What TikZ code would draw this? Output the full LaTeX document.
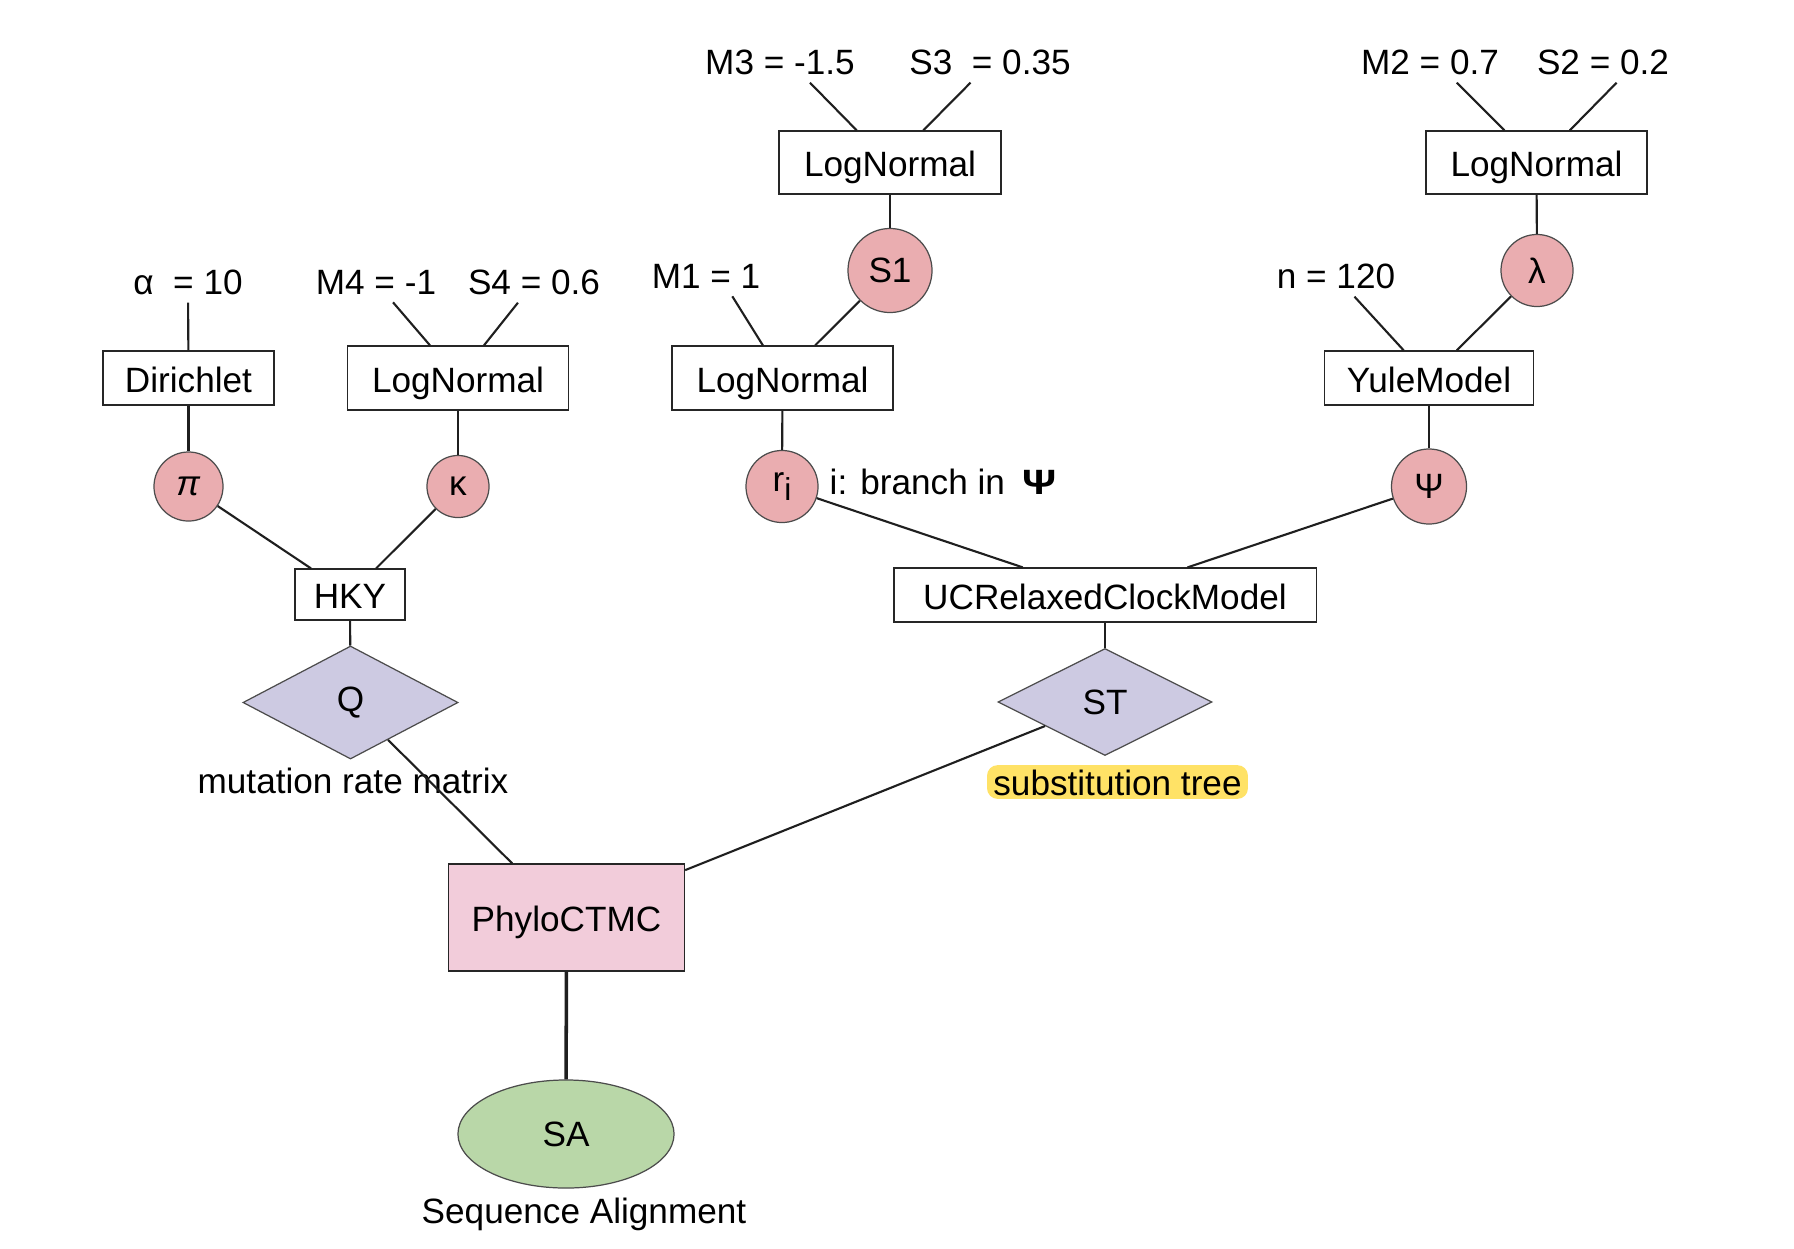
\documentclass[tikz,border=0pt]{standalone}
\usepackage{fontspec}
\setmainfont{Liberation Sans}
\usetikzlibrary{shapes}
\usetikzlibrary{shapes.geometric}

\definecolor{varpink}{RGB}{234,173,176}
\definecolor{funlilac}{RGB}{205,202,226}
\definecolor{likepink}{RGB}{242,204,218}
\definecolor{datagreen}{RGB}{185,215,168}
\definecolor{markyellow}{RGB}{255,226,102}

\begin{document}
\begin{tikzpicture}[x=0.01cm, y=-0.01cm,
    edge/.style={draw=black!88, line width=0.6pt},
    param/.style={inner sep=2pt},
    dist/.style={draw=black!85, line width=0.35pt, rectangle, inner ysep=0pt,
                 text height=11pt, text depth=3pt},
    var/.style={circle, draw=black!70, line width=0.35pt, fill=varpink, inner sep=0pt},
    fun/.style={diamond, draw=black!70, line width=0.35pt, fill=funlilac, inner sep=0pt},
  ]
  \useasboundingbox (0,0) rectangle (1794,1248);

  % substitution rate model
  \node[param] (alpha) at (188,282.5) {α\ \ = 10};
  \node[param] (m4) at (376,282.5) {M4 = -1};
  \node[param] (s4) at (534,282.5) {S4 = 0.6};
  \node[dist, minimum width=1.71cm, minimum height=0.54cm] (dir) at (188.5,378) {Dirichlet};
  \node[dist, minimum width=2.21cm, minimum height=0.64cm] (lnk) at (458,378) {LogNormal};
  \node[var, minimum size=0.69cm] (pi) at (188.5,486.5) {\textit{π}};
  \node[var, minimum size=0.62cm] (kappa) at (458,486.5) {κ};
  \node[dist, minimum width=1.10cm, minimum height=0.51cm] (hky) at (350,594.5) {HKY};
  \node[fun, minimum width=2.15cm, minimum height=1.13cm] (q) at (350.5,702.5) {Q};
  \node (qlabel) at (353,781) {mutation rate matrix};

  % clock model
  \node[param] (m3) at (780,62.5) {M3 = -1.5};
  \node[param] (s3) at (990,62.5) {S3\ \ = 0.35};
  \node[dist, minimum width=2.22cm, minimum height=0.63cm] (lns) at (890,162.5) {LogNormal};
  \node[var, minimum size=0.84cm] (s1) at (890,270.5) {S1};
  \node[param] (m1) at (706,276.5) {M1 = 1};
  \node[dist, minimum width=2.21cm, minimum height=0.64cm] (lnr) at (782.5,378) {LogNormal};
  \node[var, minimum size=0.72cm] (ri) at (782,486.5) {r\raisebox{-0.45ex}{\small i}};
  \node[anchor=west, inner sep=0pt] (branch) at (829,482)
    {i: branch in\enspace\scalebox{1.2}[1]{\textbf{Ψ}}};

  % tree model
  \node[param] (m2) at (1430,62.5) {M2 = 0.7};
  \node[param] (s2) at (1603,62.5) {S2 = 0.2};
  \node[dist, minimum width=2.21cm, minimum height=0.63cm] (lnl) at (1536.5,162.5) {LogNormal};
  \node[var, minimum size=0.72cm] (lambda) at (1537,270.5) {λ};
  \node[param] (n) at (1336,276.5) {n = 120};
  \node[dist, minimum width=2.09cm, minimum height=0.54cm] (yule) at (1429,378) {YuleModel};
  \node[var, minimum size=0.75cm] (psi) at (1429,486.5) {Ψ};

  \node[dist, minimum width=4.22cm, minimum height=0.54cm] (uc) at (1105,595) {UCRelaxedClockModel};
  \node[fun, minimum width=2.14cm, minimum height=1.07cm] (st) at (1105,702) {ST};
  \node[fill=markyellow, rounded corners=3pt, inner xsep=1.8pt, inner ysep=1.1pt,
        text height=7.4pt, text depth=0pt] (stlabel) at (1117.5,782) {substitution tree};

  % likelihood
  \node[dist, fill=likepink, minimum width=2.36cm, minimum height=1.07cm] (phylo) at (566.5,917.5) {PhyloCTMC};
  \node[ellipse, draw=black!70, line width=0.35pt, fill=datagreen, inner sep=0pt,
        minimum width=2.16cm, minimum height=1.08cm] (sa) at (566,1134) {SA};
  \node (salabel) at (584,1214) {Sequence Alignment};

  \draw[edge] (alpha) -- (dir);
  \draw[edge] (m4) -- (lnk);
  \draw[edge] (s4) -- (lnk);
  \draw[edge] (dir) -- (pi);
  \draw[edge] (lnk) -- (kappa);
  \draw[edge] (pi) -- (hky);
  \draw[edge] (kappa) -- (hky);
  \draw[edge] (hky) -- (q);
  \draw[edge] (q) -- (phylo);

  \draw[edge] (m3.-34) -- (lns.136);
  \draw[edge] (s3.-134) -- (lns.44);
  \draw[edge] (lns) -- (s1);
  \draw[edge] (m1.-37) -- (lnr.121);
  \draw[edge] (s1) -- (lnr);
  \draw[edge] (lnr) -- (ri);
  \draw[edge] (ri) -- (uc);

  \draw[edge] (m2.-37) -- (lnl.135);
  \draw[edge] (s2.-56) -- (lnl.44);
  \draw[edge] (lnl) -- (lambda);
  \draw[edge] (n) -- (yule);
  \draw[edge] (lambda) -- (yule);
  \draw[edge] (yule) -- (psi);
  \draw[edge] (psi) -- (uc);

  \draw[edge] (uc) -- (st);
  \draw[edge] (st) -- (phylo);
  \draw[edge, line width=1pt] (phylo) -- (sa);
\end{tikzpicture}
\end{document}
